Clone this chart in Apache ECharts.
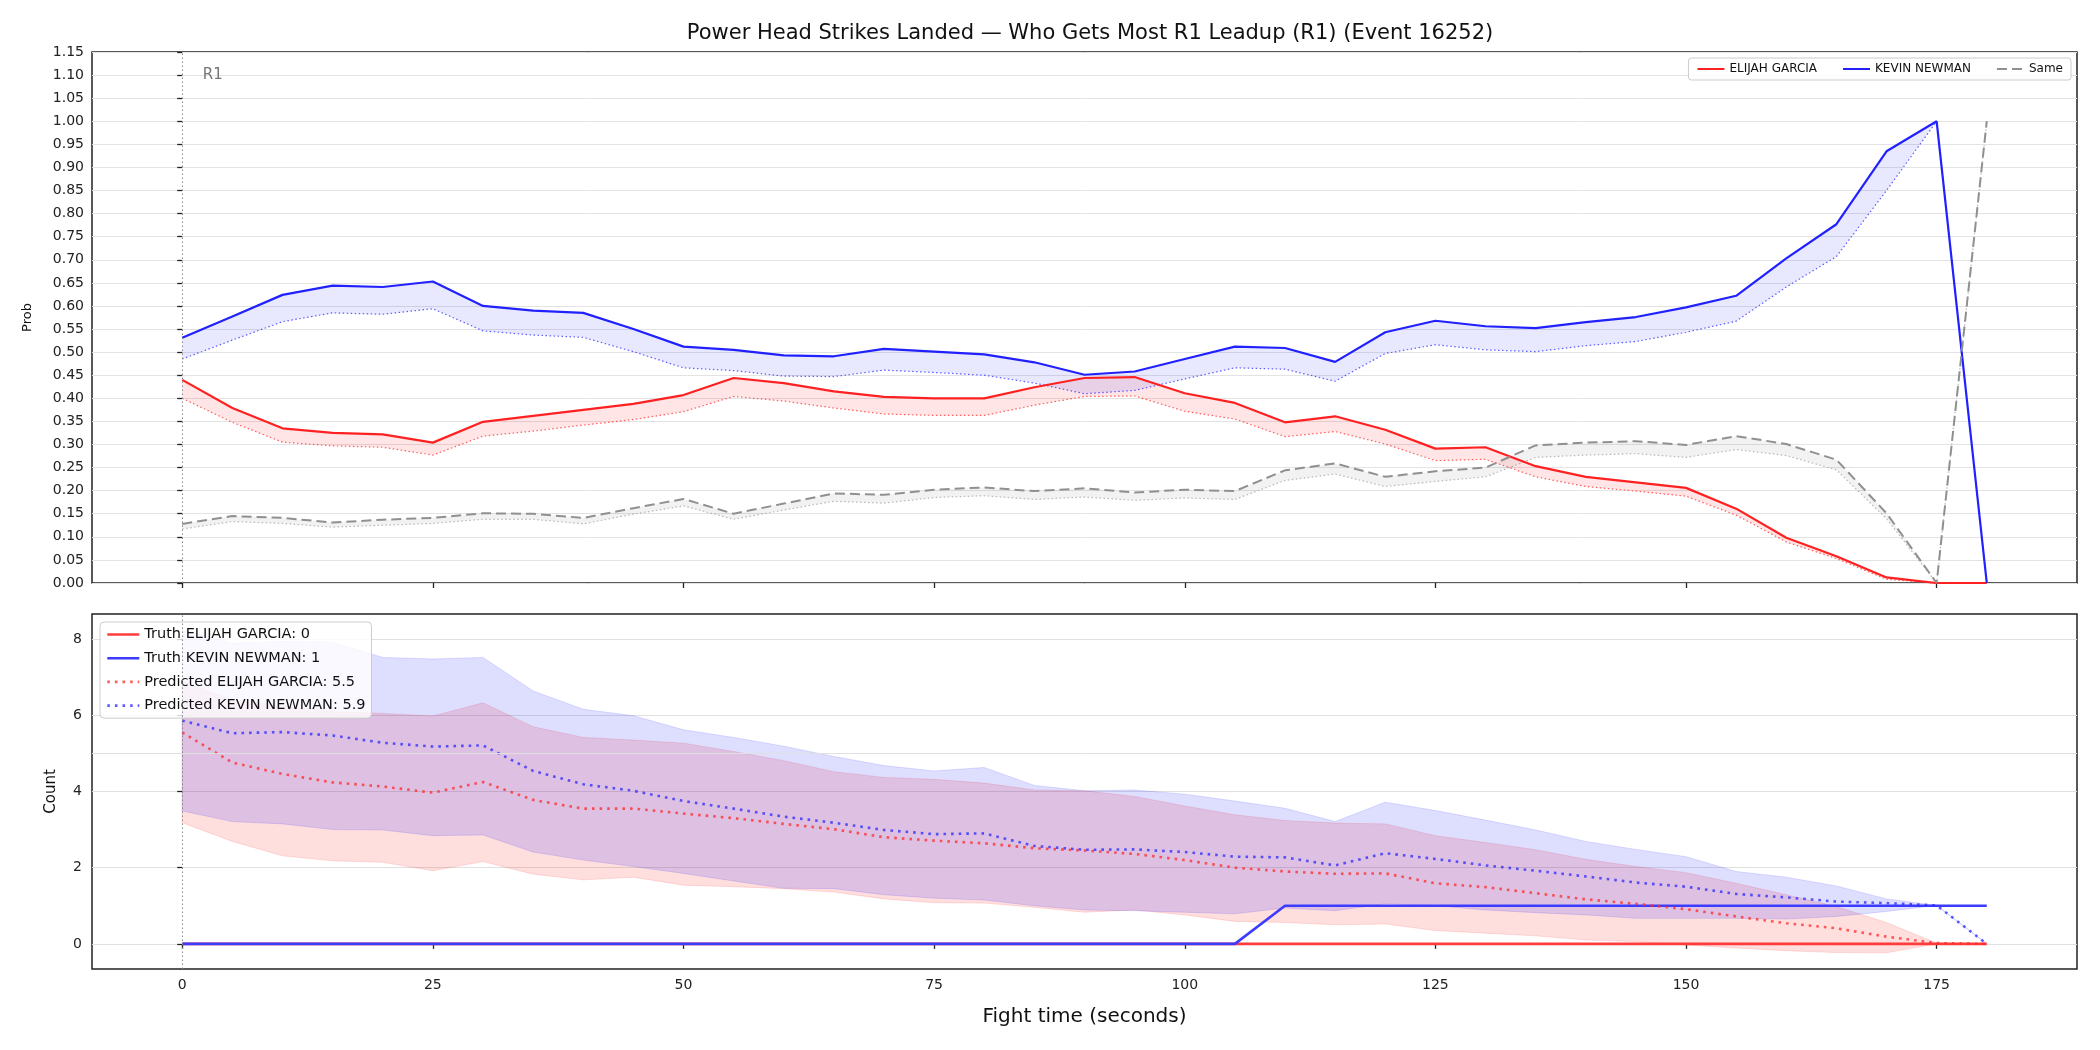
<!DOCTYPE html>
<html>
<head>
<meta charset="utf-8">
<script src="https://cdn.jsdelivr.net/npm/echarts@6/dist/echarts.min.js"></script>
<style>
  html, body { margin: 0; padding: 0; background: #fff; }
  #chart { width: 2100px; height: 1050px; }
</style>
</head>
<body>
<div id="chart"></div>
<script>
const seconds = [0, 5, 10, 15, 20, 25, 30, 35, 40, 45, 50, 55, 60, 65, 70, 75, 80, 85, 90, 95,
  100, 105, 110, 115, 120, 125, 130, 135, 140, 145, 150, 155, 160, 165, 170, 175, 180];
const xTicks = [0, 25, 50, 75, 100, 125, 150, 175];
const countTicks = [0, 2, 4, 6, 8];

// top panel: probability that each side gets most (solid) and its lower band (dotted)
const probRed = [0.440, 0.379, 0.335, 0.325, 0.322, 0.304, 0.349, 0.362, 0.375, 0.388, 0.407, 0.444, 0.433, 0.415, 0.403, 0.400, 0.400, 0.424, 0.444, 0.446,
  0.411, 0.390, 0.348, 0.361, 0.332, 0.291, 0.294, 0.253, 0.230, 0.218, 0.206, 0.161, 0.098, 0.058, 0.012, 0.000, 0.000];
const probRedLo = [0.400, 0.348, 0.305, 0.297, 0.294, 0.277, 0.318, 0.329, 0.342, 0.354, 0.371, 0.404, 0.394, 0.379, 0.366, 0.363, 0.363, 0.385, 0.404, 0.405,
  0.372, 0.355, 0.317, 0.328, 0.301, 0.265, 0.268, 0.230, 0.209, 0.199, 0.188, 0.147, 0.089, 0.053, 0.008, 0.000, 0.000];
const probBlue = [0.531, 0.577, 0.624, 0.644, 0.641, 0.653, 0.600, 0.590, 0.585, 0.550, 0.512, 0.505, 0.493, 0.491, 0.507, 0.501, 0.495, 0.478, 0.451, 0.458,
  0.485, 0.512, 0.509, 0.479, 0.543, 0.568, 0.556, 0.552, 0.565, 0.576, 0.597, 0.622, 0.703, 0.777, 0.935, 1.000, 0.000];
const probBlueLo = [0.485, 0.526, 0.566, 0.585, 0.582, 0.594, 0.546, 0.537, 0.532, 0.501, 0.466, 0.460, 0.448, 0.447, 0.461, 0.456, 0.450, 0.433, 0.410, 0.417,
  0.442, 0.466, 0.463, 0.437, 0.497, 0.516, 0.505, 0.501, 0.514, 0.523, 0.543, 0.567, 0.641, 0.707, 0.850, 1.000, 0.000];
const probSame = [0.128, 0.145, 0.141, 0.131, 0.137, 0.141, 0.151, 0.150, 0.141, 0.162, 0.182, 0.150, 0.172, 0.194, 0.191, 0.202, 0.207, 0.199, 0.205, 0.196,
  0.202, 0.199, 0.244, 0.259, 0.230, 0.242, 0.250, 0.298, 0.304, 0.307, 0.299, 0.318, 0.301, 0.267, 0.151, 0.000, 1.000];
const probSameLo = [0.117, 0.133, 0.129, 0.121, 0.125, 0.129, 0.138, 0.138, 0.128, 0.149, 0.167, 0.138, 0.158, 0.177, 0.173, 0.185, 0.189, 0.181, 0.186, 0.179,
  0.184, 0.181, 0.222, 0.236, 0.209, 0.220, 0.230, 0.272, 0.277, 0.280, 0.272, 0.289, 0.276, 0.245, 0.139, 0.000, 1.000];

// bottom panel: counts
const truthRed = [0, 0, 0, 0, 0, 0, 0, 0, 0, 0, 0, 0, 0, 0, 0, 0, 0, 0, 0, 0,
  0, 0, 0, 0, 0, 0, 0, 0, 0, 0, 0, 0, 0, 0, 0, 0, 0];
const truthBlue = [0, 0, 0, 0, 0, 0, 0, 0, 0, 0, 0, 0, 0, 0, 0, 0, 0, 0, 0, 0,
  0, 0, 1, 1, 1, 1, 1, 1, 1, 1, 1, 1, 1, 1, 1, 1, 1];
const predRed = [5.55, 4.76, 4.46, 4.24, 4.13, 3.97, 4.25, 3.78, 3.55, 3.55, 3.42, 3.30, 3.15, 3.01, 2.80, 2.71, 2.64, 2.51, 2.45, 2.36,
  2.20, 2.00, 1.90, 1.84, 1.85, 1.59, 1.49, 1.33, 1.17, 1.05, 0.91, 0.72, 0.54, 0.41, 0.19, 0.02, 0.00];
const predBlue = [5.86, 5.53, 5.56, 5.47, 5.28, 5.18, 5.21, 4.54, 4.19, 4.02, 3.75, 3.55, 3.34, 3.18, 2.99, 2.88, 2.90, 2.57, 2.47, 2.48,
  2.41, 2.29, 2.27, 2.06, 2.38, 2.23, 2.06, 1.92, 1.77, 1.61, 1.50, 1.31, 1.22, 1.11, 1.07, 1.01, 0.00];
const redHi = [6.90, 6.40, 6.25, 6.10, 6.05, 5.98, 6.33, 5.70, 5.42, 5.35, 5.27, 5.05, 4.81, 4.52, 4.37, 4.32, 4.22, 4.04, 4.02, 3.87,
  3.62, 3.39, 3.24, 3.17, 3.15, 2.84, 2.66, 2.47, 2.22, 2.03, 1.87, 1.59, 1.29, 0.98, 0.56, 0.02, 0.00];
const redLo = [3.18, 2.69, 2.31, 2.18, 2.14, 1.92, 2.16, 1.83, 1.68, 1.75, 1.54, 1.50, 1.45, 1.36, 1.18, 1.08, 1.07, 0.96, 0.83, 0.89,
  0.76, 0.59, 0.56, 0.50, 0.52, 0.35, 0.28, 0.21, 0.10, 0.06, -0.03, -0.11, -0.18, -0.23, -0.235, 0.00, 0.00];
const blueHi = [8.24, 7.89, 7.94, 7.92, 7.52, 7.48, 7.52, 6.64, 6.16, 5.99, 5.62, 5.42, 5.19, 4.92, 4.68, 4.54, 4.63, 4.16, 4.02, 4.04,
  3.93, 3.75, 3.56, 3.21, 3.72, 3.50, 3.25, 2.99, 2.69, 2.48, 2.29, 1.90, 1.75, 1.52, 1.18, 1.01, 0.00];
const blueLo = [3.49, 3.21, 3.15, 3.00, 2.99, 2.84, 2.86, 2.41, 2.20, 2.03, 1.85, 1.65, 1.46, 1.45, 1.29, 1.20, 1.15, 1.00, 0.89, 0.87,
  0.83, 0.79, 0.94, 0.87, 1.05, 1.00, 0.89, 0.82, 0.76, 0.67, 0.67, 0.67, 0.65, 0.72, 0.85, 1.01, 0.00];

const FONT = "DejaVu Sans";

function pairs(values) {
  return seconds.map(function (t, i) { return [t, values[i]]; });
}

// filled band between two lines, drawn as one polygon through the axis scales
function band(lo, hi, fill, edge, idx) {
  return {
    type: "custom",
    xAxisIndex: idx,
    yAxisIndex: idx,
    silent: true,
    z: 1,
    data: [[0, 0]],
    renderItem: function (params, api) {
      const upper = seconds.map(function (t, i) { return api.coord([t, hi[i]]); });
      const lower = seconds.map(function (t, i) { return api.coord([t, lo[i]]); }).reverse();
      return {
        type: "polygon",
        shape: { points: upper.concat(lower) },
        style: { fill: fill, stroke: edge, lineWidth: edge ? 1 : 0 }
      };
    }
  };
}

function line(name, values, color, width, dash, idx, extra) {
  return Object.assign({
    name: name,
    type: "line",
    xAxisIndex: idx,
    yAxisIndex: idx,
    data: pairs(values),
    symbol: "none",
    color: color,
    z: 3,
    lineStyle: { color: color, width: width, type: dash || "solid" }
  }, extra || {});
}

const axisText = { color: "#222", fontSize: 14, fontFamily: FONT };
const tickStyle = { show: true, length: 5, lineStyle: { color: "#222", width: 1.3 } };

const option = {
  animation: false,
  backgroundColor: "#fff",
  textStyle: { fontFamily: FONT },
  title: {
    text: "Power Head Strikes Landed — Who Gets Most R1 Leadup (R1) (Event 16252)",
    left: 1085,
    textAlign: "center",
    top: 18,
    textStyle: { fontSize: 21, fontWeight: "normal", color: "#111", fontFamily: FONT }
  },
  legend: [
    {
      data: ["ELIJAH GARCIA", "KEVIN NEWMAN", "Same"],
      right: 29,
      top: 58,
      itemWidth: 27,
      itemHeight: 10,
      itemGap: 25,
      padding: [5, 8],
      itemStyle: { opacity: 0 },
      lineStyle: { width: 2 },
      backgroundColor: "rgba(255,255,255,0.85)",
      borderColor: "#ccc",
      borderWidth: 1,
      borderRadius: 3,
      textStyle: { fontSize: 12, color: "#111", fontFamily: FONT }
    },
    {
      data: ["Truth ELIJAH GARCIA: 0", "Truth KEVIN NEWMAN: 1", "Predicted ELIJAH GARCIA: 5.5", "Predicted KEVIN NEWMAN: 5.9"],
      orient: "vertical",
      left: 100,
      top: 622,
      itemWidth: 32,
      itemHeight: 14,
      itemGap: 8.7,
      padding: [5, 6],
      itemStyle: { opacity: 0 },
      lineStyle: { width: 2.6 },
      backgroundColor: "rgba(255,255,255,0.8)",
      borderColor: "#ccc",
      borderWidth: 1,
      borderRadius: 4,
      textStyle: { fontSize: 14.5, color: "#111", fontFamily: FONT }
    }
  ],
  grid: [
    { left: 92, right: 23, top: 52, height: 531, show: true, borderColor: "#222", borderWidth: 1.5 },
    { left: 92, right: 23, top: 614, height: 355, show: true, borderColor: "#222", borderWidth: 1.5 }
  ],
  xAxis: [
    {
      type: "value", gridIndex: 0, min: -9, max: 189,
      axisLine: { show: false },
      axisTick: Object.assign({ customValues: xTicks }, tickStyle),
      axisLabel: { show: false, customValues: xTicks },
      splitLine: { show: false }
    },
    {
      type: "value", gridIndex: 1, min: -9, max: 189,
      name: "Fight time (seconds)",
      nameLocation: "middle",
      nameGap: 38,
      nameTextStyle: { fontSize: 20, color: "#111", fontFamily: FONT },
      axisLine: { show: false },
      axisTick: Object.assign({ customValues: xTicks }, tickStyle),
      axisLabel: Object.assign({ customValues: xTicks, margin: 9 }, axisText),
      splitLine: { show: false }
    }
  ],
  yAxis: [
    {
      type: "value", gridIndex: 0, min: 0, max: 1.15, interval: 0.05,
      name: "Prob",
      nameLocation: "middle",
      nameGap: 58,
      nameTextStyle: { fontSize: 13, color: "#111", fontFamily: FONT },
      axisLine: { show: false },
      axisTick: tickStyle,
      axisLabel: Object.assign({ margin: 8, formatter: function (v) { return v.toFixed(2); } }, axisText),
      splitLine: { show: true, lineStyle: { color: "#e3e3e3", width: 1 } }
    },
    {
      type: "value", gridIndex: 1, min: -0.66, max: 8.66,
      name: "Count",
      nameLocation: "middle",
      nameGap: 33,
      nameTextStyle: { fontSize: 15, color: "#111", fontFamily: FONT },
      axisLine: { show: false },
      axisTick: Object.assign({ customValues: countTicks }, tickStyle),
      axisLabel: Object.assign({ customValues: countTicks, margin: 10 }, axisText),
      splitLine: { show: true, lineStyle: { color: "#e0e0e0", width: 1 } }
    }
  ],
  series: [
    band(probSameLo, probSame, "rgba(128,128,128,0.1)", null, 0),
    band(probRedLo, probRed, "rgba(255,0,0,0.1)", null, 0),
    band(probBlueLo, probBlue, "rgba(0,0,255,0.09)", null, 0),
    line("sameLo", probSameLo, "rgba(140,140,140,0.6)", 1.2, [1.5, 2.5], 0),
    line("redLo", probRedLo, "rgba(255,30,30,0.7)", 1.2, [1.5, 2.5], 0),
    line("blueLo", probBlueLo, "rgba(30,30,255,0.7)", 1.2, [1.5, 2.5], 0),
    line("ELIJAH GARCIA", probRed, "#ff2121", 2.2, null, 0, {
      markLine: {
        silent: true,
        symbol: ["none", "none"],
        label: { show: false },
        lineStyle: { color: "#888", width: 1, type: [1.5, 2.5] },
        data: [{ xAxis: 0 }]
      },
      markPoint: {
        silent: true,
        symbol: "circle",
        symbolSize: 1,
        itemStyle: { color: "rgba(0,0,0,0)" },
        label: { show: true, position: "right", distance: 20, formatter: "R1", color: "#777", fontSize: 15, fontFamily: FONT },
        data: [{ coord: [0, 1.1] }]
      }
    }),
    line("KEVIN NEWMAN", probBlue, "#2121ff", 2.2, null, 0),
    line("Same", probSame, "#909090", 2, [10, 5], 0),

    band(redLo, redHi, "rgba(255,0,0,0.13)", "rgba(255,0,0,0.12)", 1),
    band(blueLo, blueHi, "rgba(0,0,255,0.13)", "rgba(0,0,255,0.12)", 1),
    line("Truth ELIJAH GARCIA: 0", truthRed, "#ff3c3c", 2.6, null, 1, {
      markLine: {
        silent: true,
        symbol: ["none", "none"],
        label: { show: false },
        data: [
          { xAxis: 0, lineStyle: { color: "#888", width: 1, type: [1.5, 2.5] } },
          { yAxis: 5, lineStyle: { color: "#e0e0e0", width: 1, type: "solid" } }
        ]
      }
    }),
    line("Truth KEVIN NEWMAN: 1", truthBlue, "#3c3cff", 2.6, null, 1),
    line("Predicted ELIJAH GARCIA: 5.5", predRed, "rgba(255,40,40,0.75)", 2.6, [2.6, 5], 1),
    line("Predicted KEVIN NEWMAN: 5.9", predBlue, "rgba(40,40,255,0.75)", 2.6, [2.6, 5], 1)
  ]
};

const chart = echarts.init(document.getElementById("chart"));
chart.setOption(option);
</script>
</body>
</html>
